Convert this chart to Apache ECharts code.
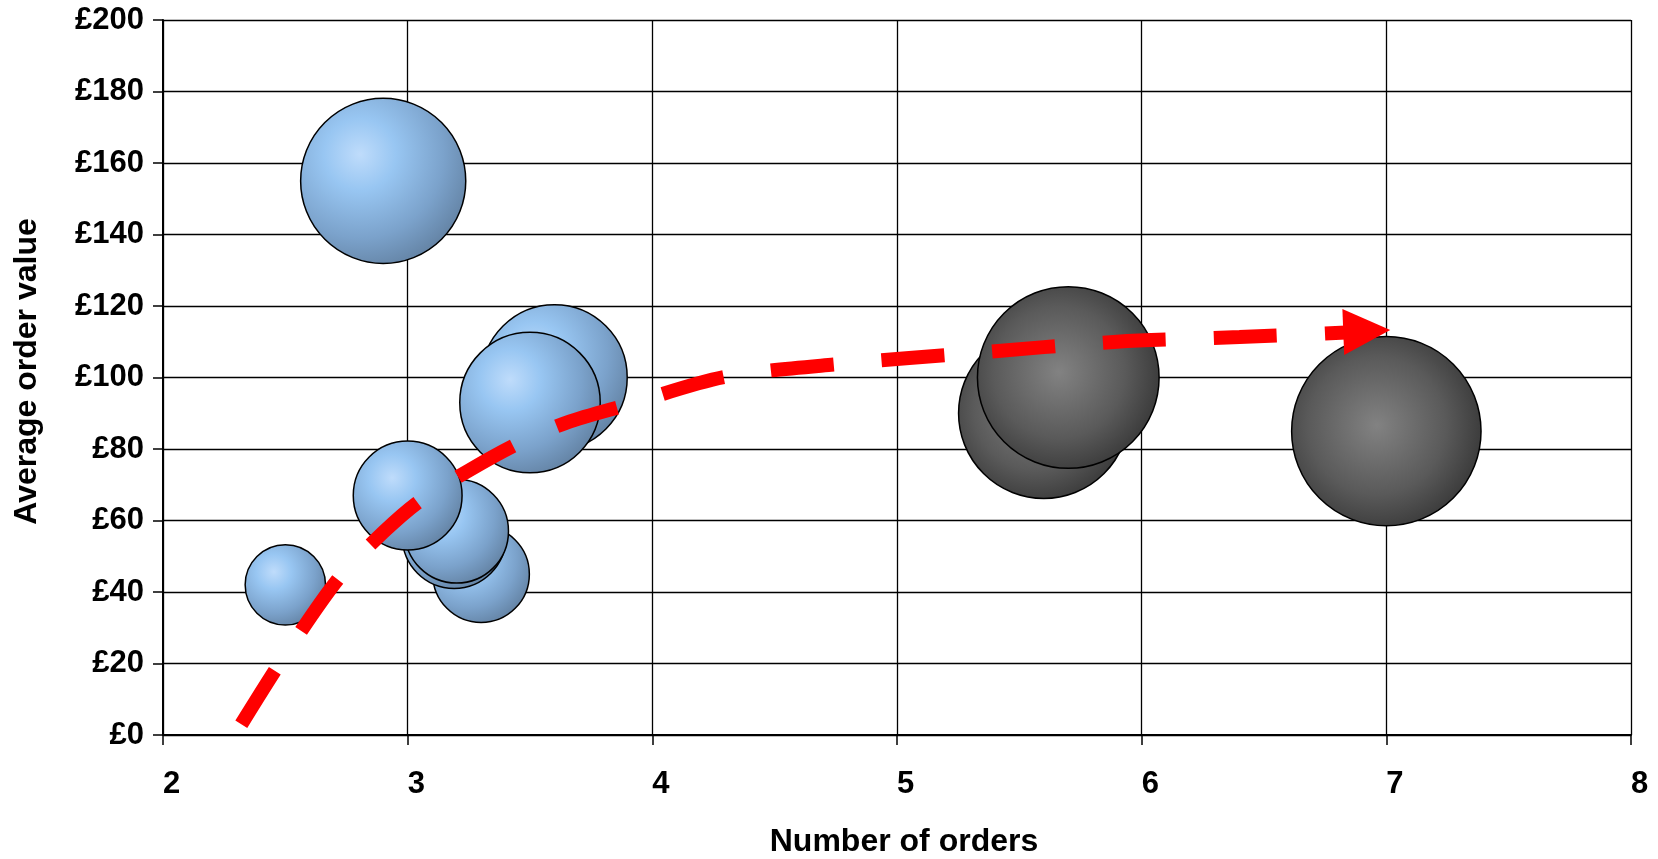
<!DOCTYPE html>
<html>
<head>
<meta charset="utf-8">
<style>
  html, body { margin: 0; padding: 0; background: #ffffff; }
  #chart { width: 1658px; height: 859px; }
</style>
<script src="https://cdn.jsdelivr.net/npm/echarts@6/dist/echarts.min.js"></script>
</head>
<body>
<div id="chart"></div>
<script>
// ---- Data ----
// Blue bubbles (number of orders, average order value, bubble size)
const blueX    = [2.9, 3.3, 3.19, 3.2, 3.0, 2.5, 3.6, 3.5];
const blueY    = [155, 45, 55.5, 57, 67, 42, 100, 93];
const blueSize = [76, 26, 30, 30, 33, 18, 59, 55];

// Dark bubbles
const darkX    = [5.6, 5.7, 7.0];
const darkY    = [90, 100, 85];
const darkSize = [81, 92, 100];

// Red dashed trend arrow path
const trendX = [2.32, 2.5, 2.72, 2.9, 3.05, 3.25, 3.45, 3.65, 3.9, 4.3, 4.8, 5.3, 5.9, 6.4, 6.9];
const trendY = [3, 22.5, 44, 56.7, 65.5, 74, 81.5, 87.4, 92.4, 100.2, 104, 106.8, 110, 111.3, 112.8];
// Arrow head centre
const arrowX = [6.92];
const arrowY = [113.0];

// Axes
const xMin = 2, xMax = 8, xStep = 1;
const yMin = 0, yMax = 200, yStep = 20;
const currency = '£';
const xTitle = 'Number of orders';
const yTitle = 'Average order value';

// ---- Build ----
const zip3 = (a, b, c) => a.map((v, i) => [v, b[i], c[i]]);
const zip2 = (a, b) => a.map((v, i) => [v, b[i]]);

const FONT = "'Liberation Sans', Arial, Helvetica, sans-serif";
const BUBBLE_SCALE = 18.94;

const blueFill = {
  type: 'radial', x: 0.36, y: 0.34, r: 0.72,
  colorStops: [
    { offset: 0, color: '#bfdcfb' },
    { offset: 0.3, color: '#98c6f2' },
    { offset: 0.7, color: '#7ba2cb' },
    { offset: 1, color: '#6382a3' }
  ]
};
const darkFill = {
  type: 'radial', x: 0.45, y: 0.47, r: 0.6,
  colorStops: [
    { offset: 0, color: '#828282' },
    { offset: 0.6, color: '#5a5a5a' },
    { offset: 1, color: '#353535' }
  ]
};

const chart = echarts.init(document.getElementById('chart'), null, { renderer: 'canvas' });

chart.setOption({
  animation: false,
  backgroundColor: '#ffffff',
  grid: {
    left: 163, right: 27, top: 20, bottom: 124,
    containLabel: false,
    outerBoundsMode: 'none'
  },
  xAxis: {
    type: 'value',
    min: xMin, max: xMax, interval: xStep,
    name: xTitle,
    nameLocation: 'middle',
    nameGap: 91,
    nameTextStyle: { fontFamily: FONT, fontWeight: 'bold', fontSize: 32, color: '#000', padding: [0, 0, 0, 14] },
    axisLine: { show: true, onZero: false, lineStyle: { color: '#000', width: 2 } },
    axisTick: { show: true, inside: false, length: 10, lineStyle: { color: '#000', width: 1.5 } },
    axisLabel: { fontFamily: FONT, fontWeight: 'bold', fontSize: 31, color: '#000', align: 'left', margin: 34 },
    splitLine: { show: true, lineStyle: { color: '#000', width: 1.3 } }
  },
  yAxis: {
    type: 'value',
    min: yMin, max: yMax, interval: yStep,
    name: yTitle,
    nameLocation: 'middle',
    nameGap: 120,
    nameTextStyle: { fontFamily: FONT, fontWeight: 'bold', fontSize: 32, color: '#000', padding: [0, 0, 0, 12] },
    axisLine: { show: true, onZero: false, lineStyle: { color: '#000', width: 2 } },
    axisTick: { show: true, inside: false, length: 10, lineStyle: { color: '#000', width: 1.5 } },
    axisLabel: { fontFamily: FONT, fontWeight: 'bold', fontSize: 31, color: '#000', margin: 19,
                 formatter: v => currency + v },
    splitLine: { show: true, lineStyle: { color: '#000', width: 1.3 } }
  },
  series: [
    {
      name: 'Group A',
      type: 'scatter',
      data: zip3(blueX, blueY, blueSize),
      symbol: 'circle',
      symbolSize: d => Math.sqrt(d[2]) * BUBBLE_SCALE,
      itemStyle: { color: blueFill, borderColor: '#000', borderWidth: 1.5, opacity: 1 },
      z: 3
    },
    {
      name: 'Group B',
      type: 'scatter',
      data: zip3(darkX, darkY, darkSize),
      symbol: 'circle',
      symbolSize: d => Math.sqrt(d[2]) * BUBBLE_SCALE,
      itemStyle: { color: darkFill, borderColor: '#000', borderWidth: 1.5, opacity: 1 },
      z: 3
    },
    {
      name: 'Trend',
      type: 'line',
      data: zip2(trendX, trendY),
      smooth: 0.3,
      showSymbol: false,
      symbol: 'none',
      lineStyle: { color: '#ff0000', width: 14, type: [63, 48], cap: 'butt' },
      z: 5
    },
    {
      name: 'Arrow',
      type: 'scatter',
      data: zip2(arrowX, arrowY),
      symbol: 'triangle',
      symbolSize: [46, 47],
      symbolRotate: -87.75,
      itemStyle: { color: '#ff0000', opacity: 1 },
      z: 6
    }
  ]
});
</script>
</body>
</html>
